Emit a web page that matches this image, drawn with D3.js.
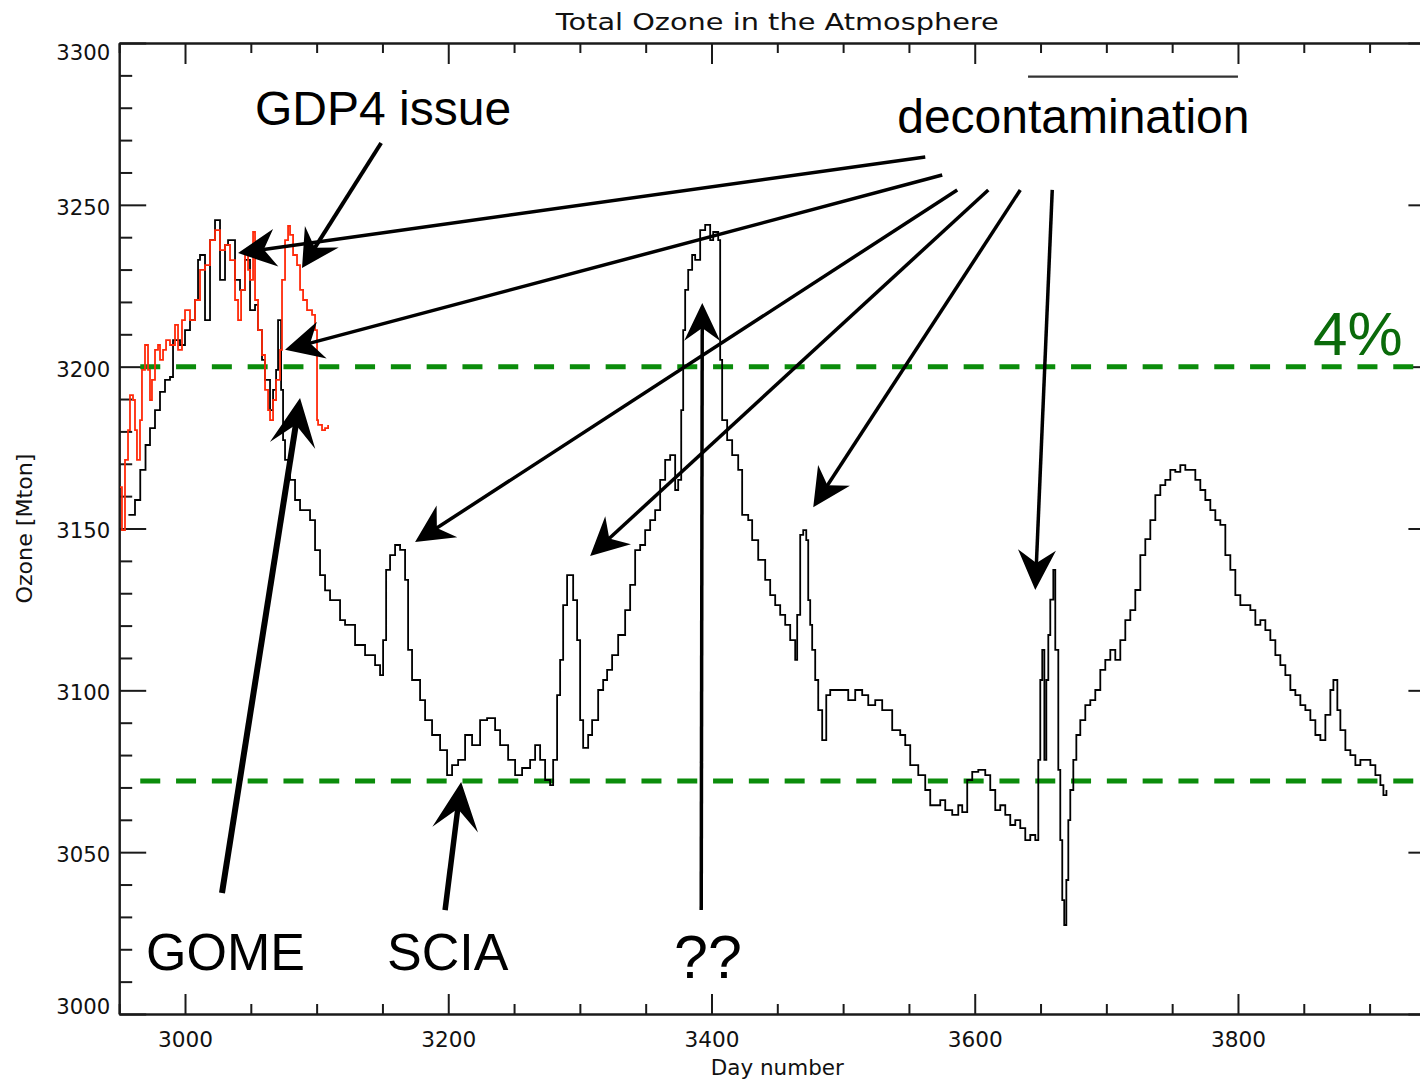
<!DOCTYPE html>
<html><head><meta charset="utf-8">
<script src="https://cdn.jsdelivr.net/npm/d3@7/dist/d3.min.js"></script>
<style>
html,body{margin:0;padding:0;background:#fff;}
svg{display:block;}
</style></head>
<body>
<svg id="chart" width="1420" height="1081"></svg>
<script>
// ---------------- DATA ----------------
const blackDay = [2957,2962,2966,2970,2973.4,2977.2,2981,2984.8,2988.6,2990.9,2996.2,3000,3003.8,3007.6,3009.9,3011.4,3015.2,3019,3022.8,3026.6,3030.4,3032.7,3038,3041.8,3045.6,3049.4,3053.2,3055.5,3058.5,3060.8,3064.6,3066.9,3069.2,3070.7,3073,3074.5,3076,3079.8,3083.6,3087.4,3095,3098.8,3102.6,3106.4,3110.2,3117.8,3121.6,3129.2,3136.8,3144.4,3148.2,3150.5,3152.8,3155.8,3159.6,3163.4,3167.2,3169.5,3172.5,3178.6,3182.4,3187.7,3193.8,3199.1,3202.9,3207.5,3212.8,3218.1,3224.2,3229.5,3235.6,3239.4,3245.5,3250.8,3256.1,3262.2,3266,3269.8,3273.6,3277.4,3279.7,3282.7,3285,3287.3,3290.3,3292.6,3294.9,3297.9,3300.2,3302.5,3306.3,3309.3,3313.9,3317.7,3320.7,3324.5,3329.1,3334.4,3338.2,3342,3345.8,3349.6,3353.4,3357.2,3361,3364.8,3368.6,3372.4,3374.7,3377,3378.5,3380,3382.3,3385.3,3387.6,3391.4,3395.2,3399,3401.3,3405.1,3406.6,3408.1,3411.9,3415.7,3420.3,3423.3,3427.9,3430.9,3435.5,3440.8,3444.6,3448.4,3452.2,3456,3459.8,3463.6,3465.1,3467.4,3469.7,3472,3473.5,3475,3476.5,3478.8,3481.1,3484.1,3487.2,3490.2,3497.8,3503.9,3509.2,3514.5,3519.1,3524.4,3529.7,3533.5,3537.3,3543.4,3547.2,3551,3557.1,3562.4,3566.2,3573.8,3577.6,3582.9,3587.5,3590.5,3594.3,3598.1,3602.7,3608,3611.8,3615.6,3619.4,3623.2,3627,3630.8,3634.6,3638.4,3642.2,3646,3648.3,3649.8,3651.3,3652.9,3654.4,3655.9,3657.4,3659.7,3661.2,3663.5,3665,3666.5,3668,3669.6,3671.1,3672.6,3674.9,3677.2,3680.2,3684,3687.8,3691.6,3695.4,3699.2,3703,3706.8,3710.6,3714.4,3718.2,3722,3725.8,3729.6,3733.4,3737.2,3741,3744.8,3748.6,3752.4,3756.2,3760,3763.8,3767.6,3771.4,3775.2,3779,3782.8,3786.6,3790.4,3794.2,3798,3801.8,3805.6,3809.4,3813.2,3817,3820.8,3824.6,3828.4,3832.2,3836,3839.8,3843.6,3847.4,3851.2,3855,3858.8,3862.6,3866.4,3870.2,3872.5,3875.5,3877.8,3881.6,3885.4,3889.2,3893,3896.8,3900.6,3904.4,3908.2,3910.5,3912.8];
const blackOzone = [3154.2,3158.8,3168.1,3175.8,3181.0,3186.6,3192.2,3195.9,3196.8,3208.2,3206.7,3211.3,3214.4,3220.6,3233.0,3234.5,3214.4,3239.1,3245.3,3226.8,3237.6,3239.1,3226.8,3223.7,3233.0,3217.5,3219.1,3211.3,3202.1,3195.9,3186.6,3192.8,3199.0,3214.4,3192.8,3177.3,3171.2,3165.0,3158.8,3155.7,3152.6,3143.3,3135.6,3130.9,3127.9,3121.7,3120.2,3114.0,3110.9,3107.8,3104.7,3115.5,3137.2,3141.8,3144.9,3143.4,3134.1,3112.5,3103.2,3097.0,3090.8,3086.2,3081.5,3073.8,3076.9,3078.5,3086.2,3083.1,3090.8,3091.4,3087.7,3083.1,3078.5,3073.8,3076.0,3078.5,3083.1,3078.5,3072.3,3070.7,3078.5,3098.5,3109.4,3126.3,3135.6,3135.6,3127.9,3115.5,3090.8,3082.2,3086.2,3090.8,3100.1,3103.2,3106.3,3110.9,3117.1,3124.8,3132.6,3143.3,3144.9,3149.5,3152.6,3155.7,3165.0,3171.2,3172.7,3161.9,3165.0,3186.6,3211.3,3223.7,3229.9,3234.5,3233.0,3242.2,3243.8,3239.1,3241.6,3239.1,3202.1,3183.5,3177.3,3172.7,3168.1,3154.2,3152.6,3146.4,3140.3,3134.1,3129.4,3126.3,3123.3,3120.2,3115.5,3109.4,3123.3,3148.0,3149.5,3146.4,3127.9,3120.2,3112.5,3103.2,3093.9,3084.6,3098.5,3100.1,3100.1,3097.0,3100.1,3098.5,3095.4,3097.0,3093.9,3093.9,3087.7,3086.2,3083.1,3076.9,3073.8,3069.2,3064.5,3066.1,3063.0,3061.5,3064.5,3062.4,3072.3,3074.8,3075.4,3073.8,3069.2,3063.0,3064.5,3061.5,3058.4,3059.9,3057.4,3053.7,3055.3,3053.7,3078.5,3103.2,3112.5,3078.5,3103.2,3117.1,3128.0,3137.2,3112.5,3075.4,3053.7,3035.2,3027.5,3041.4,3059.9,3069.2,3078.5,3086.2,3090.8,3095.4,3097.0,3100.1,3106.3,3109.4,3112.5,3109.4,3115.5,3121.7,3124.8,3131.0,3141.8,3146.7,3152.6,3160.3,3163.4,3165.0,3168.1,3167.5,3169.6,3168.1,3168.1,3165.0,3161.9,3158.8,3155.7,3152.6,3151.1,3141.8,3137.2,3129.4,3126.3,3126.3,3124.8,3120.2,3121.7,3118.6,3115.5,3110.9,3107.8,3104.7,3100.1,3098.5,3095.4,3093.9,3090.8,3086.2,3084.6,3092.4,3100.1,3103.2,3093.9,3087.7,3081.5,3080.0,3076.9,3078.5,3078.5,3076.9,3073.8,3070.7,3067.6,3069.2];

const redDay = [2950.6,2952.1,2954.4,2956.7,2958.2,2960.5,2962,2963.5,2965.8,2967.3,2969.6,2971.9,2973.4,2974.9,2977.2,2979.5,2981,2983.3,2985.6,2988.6,2992.4,2994.7,2997.7,3000,3003.8,3007.6,3011.4,3015.2,3019,3022.8,3026.6,3030.4,3034.2,3038,3040.3,3042.6,3045.6,3047.9,3049.4,3051.7,3053.2,3055.5,3058.5,3060.8,3063.1,3064.6,3066.9,3069.2,3072.2,3073.7,3076,3078.3,3079.8,3082.1,3085.1,3087.4,3089.7,3092.7,3096.5,3098.8,3100.3,3101.1,3104.1,3106.4,3108.7];
const redOzone = [3162.8,3149.5,3171.2,3180.4,3191.2,3189.7,3180.4,3171.2,3183.5,3199.0,3206.7,3199.0,3189.7,3195.9,3205.2,3206.7,3202.1,3205.2,3208.2,3206.7,3212.9,3205.2,3214.4,3217.5,3214.4,3220.6,3229.9,3231.4,3239.1,3242.2,3236.0,3237.6,3232.9,3220.6,3214.4,3223.7,3236.0,3229.9,3226.8,3241.6,3220.6,3211.3,3203.6,3192.8,3186.6,3183.5,3189.7,3195.9,3205.2,3226.8,3239.1,3243.5,3240.7,3234.5,3231.4,3223.7,3220.6,3217.5,3216.0,3211.3,3183.5,3182.0,3180.4,3181.0,3182.0];

// reference levels (dashed)
const refLevels = [3200, 3072];
const refStartDay = 2966;

// axis ticks
const xMajorTicks = [3000, 3200, 3400, 3600, 3800];
const xMinorTicks = d3.range(2950, 3951, 50);
const yMajorTicks = [3000, 3050, 3100, 3150, 3200, 3250, 3300];
const yMinorTicks = d3.range(3000, 3301, 10);

// annotations (in data units)
const arrowFrom = [
  [3149, 3269.1], [3562.4, 3264.8], [3575.3, 3259.2], [3586.7, 3254.6], [3610.3, 3254.6],
  [3634.6, 3254.6], [3658.9, 3254.6], [3028.1, 3037.4], [3197.6, 3032.1], [3392.2, 3032.1]
];
const arrowTo = [
  [3088.9, 3230.5], [3040.3, 3235.1], [3076, 3205.2], [3174.8, 3145.8], [3307.8, 3141.5],
  [3477.3, 3156.6], [3646, 3131], [3087.4, 3190.3], [3209.8, 3071.7], [3393, 3219.7]
];
const arrowWidth = [4, 3.5, 3.5, 3.5, 3.5, 3.5, 3.5, 6, 5.5, 3.5];
const arrowHead = [[37,20,24],[38,19,26],[38,19,26],[38,19,26],[38,19,26],[38,19,26],[40,19,27],[48,23,27],[48,23,27],[38,18,25]];

const labelText = ["GDP4 issue", "decontamination", "GOME", "SCIA", "??", "4%"];
const labelPos = [[3053.2, 3274.7], [3541.1, 3272.2], [2970.4, 3013.6], [3153.5, 3013.6], [3371.6, 3011.1], [3857, 3203.6]];
const labelSize = [48, 48, 52, 52, 61, 62];
const labelColor = ["#000", "#000", "#000", "#000", "#000", "#0a6a0a"];

const barDays = [3640.5, 3800];
const barLevel = 3289.6;

// ---------------- CHART ----------------
const svg = d3.select("#chart");
const x = d3.scaleLinear().domain([2950, 3950]).range([119.2, 1435.4]);
const y = d3.scaleLinear().domain([3000, 3300]).range([1014, 43]);
const axisFont = "DejaVu Sans, sans-serif";
const axisColor = "#1a1a1a";

function styleAxis(g) {
  g.selectAll("path.domain").attr("stroke", axisColor).attr("stroke-width", 2);
  g.selectAll(".tick line").attr("stroke", axisColor).attr("stroke-width", 2);
}

// minor ticks (drawn as separate axes with no labels)
const yMinor = yMinorTicks.filter(v => v % 50 !== 0);
svg.append("g").attr("transform", `translate(${x(2950)},0)`)
  .call(d3.axisLeft(y).tickValues(yMinor).tickSize(-13).tickSizeOuter(0).tickFormat(""))
  .call(styleAxis);
svg.append("g").attr("transform", `translate(${x(3950)},0)`)
  .call(d3.axisRight(y).tickValues(yMinor).tickSize(-13).tickSizeOuter(0).tickFormat(""))
  .call(styleAxis);
const xMinor = xMinorTicks.filter(v => !xMajorTicks.includes(v));
svg.append("g").attr("transform", `translate(0,${y(3000)})`)
  .call(d3.axisBottom(x).tickValues(xMinor).tickSize(-10).tickSizeOuter(0).tickFormat(""))
  .call(styleAxis);
svg.append("g").attr("transform", `translate(0,${y(3300)})`)
  .call(d3.axisTop(x).tickValues(xMinor).tickSize(-10).tickSizeOuter(0).tickFormat(""))
  .call(styleAxis);

// major axes
const yAxisG = svg.append("g").attr("transform", `translate(${x(2950)},0)`)
  .call(d3.axisLeft(y).tickValues(yMajorTicks).tickSize(-27).tickSizeOuter(0).tickPadding(9).tickFormat(d3.format("d")))
  .call(styleAxis);
yAxisG.selectAll("text")
  .attr("font-family", axisFont).attr("font-size", 21).attr("fill", "#111")
  .attr("textLength", 54).attr("lengthAdjust", "spacingAndGlyphs")
  .attr("dy", "0.38em")
  .attr("y", d => d === 3300 ? 9 : (d === 3000 ? -8 : 1.5));
svg.append("g").attr("transform", `translate(${x(3950)},0)`)
  .call(d3.axisRight(y).tickValues(yMajorTicks).tickSize(-27).tickSizeOuter(0).tickFormat(""))
  .call(styleAxis);
const xAxisG = svg.append("g").attr("transform", `translate(0,${y(3000)})`)
  .call(d3.axisBottom(x).tickValues(xMajorTicks).tickSize(-20).tickSizeOuter(0).tickPadding(18).tickFormat(d3.format("d")))
  .call(styleAxis);
xAxisG.selectAll("text")
  .attr("font-family", axisFont).attr("font-size", 21).attr("fill", "#111")
  .attr("textLength", 55).attr("lengthAdjust", "spacingAndGlyphs");
svg.append("g").attr("transform", `translate(0,${y(3300)})`)
  .call(d3.axisTop(x).tickValues(xMajorTicks).tickSize(-21).tickSizeOuter(0).tickFormat(""))
  .call(styleAxis);

// axis titles
const midX = (x(2950) + x(3950)) / 2;
svg.append("text").attr("x", midX).attr("y", 30).attr("text-anchor", "middle")
  .attr("font-family", axisFont).attr("font-size", 23).attr("fill", "#111")
  .attr("textLength", 443).attr("lengthAdjust", "spacingAndGlyphs")
  .text("Total Ozone in the Atmosphere");
svg.append("text").attr("x", midX).attr("y", 1075).attr("text-anchor", "middle")
  .attr("font-family", axisFont).attr("font-size", 22).attr("fill", "#111")
  .attr("textLength", 133).attr("lengthAdjust", "spacingAndGlyphs")
  .text("Day number");
const midY = (y(3000) + y(3300)) / 2;
svg.append("text").attr("transform", `translate(32,${midY}) rotate(-90)`).attr("text-anchor", "middle")
  .attr("font-family", axisFont).attr("font-size", 21).attr("fill", "#111")
  .attr("textLength", 150).attr("lengthAdjust", "spacingAndGlyphs")
  .text("Ozone [Mton]");

// reference dashed lines
svg.append("g").selectAll("line").data(refLevels).join("line")
  .attr("x1", x(refStartDay)).attr("x2", x(3950))
  .attr("y1", d => y(d)).attr("y2", d => y(d))
  .attr("stroke", "#0b8c0b").attr("stroke-width", 5)
  .attr("stroke-dasharray", "20 15.8");

// data lines (daily step style)
const line = d3.line().x(d => x(d[0])).y(d => y(d[1])).curve(d3.curveStepAfter);
svg.append("path").datum(blackDay.map((d, i) => [d, blackOzone[i]]))
  .attr("d", line).attr("fill", "none").attr("stroke", "#000").attr("stroke-width", 1.8);
svg.append("path").datum(redDay.map((d, i) => [d, redOzone[i]]))
  .attr("d", line).attr("fill", "none").attr("stroke", "#ff2a0a").attr("stroke-width", 1.8);

// top bar
svg.append("line").attr("x1", x(barDays[0])).attr("x2", x(barDays[1]))
  .attr("y1", y(barLevel)).attr("y2", y(barLevel))
  .attr("stroke", "#333").attr("stroke-width", 2.2);

// arrows
const arrows = arrowFrom.map((f, i) => ({ f, t: arrowTo[i], w: arrowWidth[i], h: arrowHead[i] }));
const ag = svg.append("g");
arrows.forEach(a => {
  const x1 = x(a.f[0]), y1 = y(a.f[1]), x2 = x(a.t[0]), y2 = y(a.t[1]);
  const ang = Math.atan2(y2 - y1, x2 - x1);
  const [L, W, N] = a.h;
  const ex = x2 - Math.cos(ang) * (N - 2), ey = y2 - Math.sin(ang) * (N - 2);
  ag.append("line").attr("x1", x1).attr("y1", y1).attr("x2", ex).attr("y2", ey)
    .attr("stroke", "#000").attr("stroke-width", a.w);
  ag.append("path")
    .attr("d", `M0,0 L${-L},${-W} L${-N},0 L${-L},${W} Z`)
    .attr("transform", `translate(${x2},${y2}) rotate(${ang * 180 / Math.PI})`)
    .attr("fill", "#000");
});

// labels
svg.append("g").selectAll("text").data(labelText).join("text")
  .attr("x", (d, i) => x(labelPos[i][0])).attr("y", (d, i) => y(labelPos[i][1]))
  .attr("font-family", "Liberation Sans, Arial, sans-serif")
  .attr("font-size", (d, i) => labelSize[i]).attr("fill", (d, i) => labelColor[i])
  .text(d => d);
</script>
</body></html>
